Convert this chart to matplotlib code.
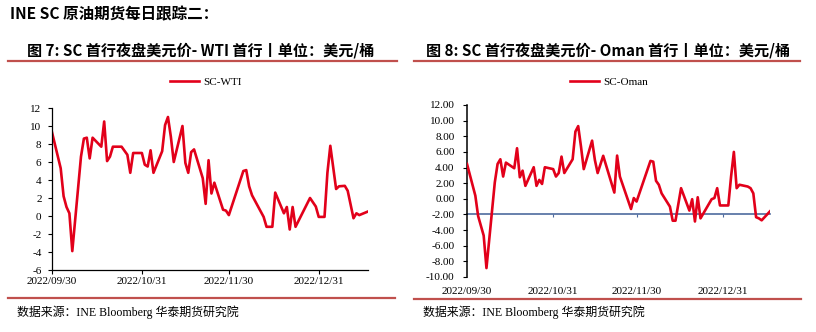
import pandas as pd
import numpy as np
import matplotlib.pyplot as plt
from matplotlib.lines import Line2D
from matplotlib.ticker import FormatStrFormatter

plt.rcParams['font.family'] = ['Liberation Serif', 'Noto Sans CJK SC']
plt.rcParams['axes.unicode_minus'] = False

# SC-WTI first-line spread (USD/bbl)
wti_dates = ['2022-09-30', '2022-10-03', '2022-10-04', '2022-10-05', '2022-10-06', '2022-10-07',
             '2022-10-10', '2022-10-11', '2022-10-12', '2022-10-13', '2022-10-14', '2022-10-17',
             '2022-10-18', '2022-10-19', '2022-10-20', '2022-10-21', '2022-10-24', '2022-10-26',
             '2022-10-27', '2022-10-28', '2022-10-31', '2022-11-01', '2022-11-02', '2022-11-03',
             '2022-11-04', '2022-11-07', '2022-11-08', '2022-11-09', '2022-11-10', '2022-11-11',
             '2022-11-14', '2022-11-15', '2022-11-16', '2022-11-17', '2022-11-18', '2022-11-21',
             '2022-11-22', '2022-11-23', '2022-11-24', '2022-11-25', '2022-11-28', '2022-11-29',
             '2022-11-30', '2022-12-05', '2022-12-06', '2022-12-07', '2022-12-08', '2022-12-12',
             '2022-12-13', '2022-12-15', '2022-12-16', '2022-12-19', '2022-12-20', '2022-12-21',
             '2022-12-22', '2022-12-23', '2022-12-28', '2022-12-30', '2022-12-31', '2023-01-02',
             '2023-01-03', '2023-01-04', '2023-01-06', '2023-01-07', '2023-01-09', '2023-01-10',
             '2023-01-12', '2023-01-13', '2023-01-14', '2023-01-17']
wti_vals = [9.3, 5.3, 2.2, 1.0, 0.3, -3.9,
            6.6, 8.6, 8.7, 6.4, 8.7, 7.7,
            10.5, 6.1, 6.6, 7.7, 7.7, 6.8,
            4.8, 7.0, 7.0, 5.7, 5.5, 7.3,
            4.8, 7.2, 10.1, 11.0, 8.8, 6.0,
            10.0, 5.9, 4.8, 7.1, 7.4, 4.2,
            1.35, 6.2, 2.5, 3.7, 0.7, 0.6,
            0.1, 5.0, 5.1, 3.3, 2.3, -0.1,
            -1.2, -1.2, 2.6, 0.3, 1.0, -1.5,
            1.0, -1.2, 2.0, 1.05, -0.1, -0.1,
            4.8, 7.8, 3.0, 3.3, 3.35, 2.8,
            -0.25, 0.3, 0.1, 0.5]

# SC-Oman first-line spread (USD/bbl)
oman_dates = ['2022-09-30', '2022-10-03', '2022-10-04', '2022-10-06', '2022-10-07', '2022-10-10',
              '2022-10-11', '2022-10-12', '2022-10-13', '2022-10-14', '2022-10-17', '2022-10-18',
              '2022-10-19', '2022-10-20', '2022-10-21', '2022-10-24', '2022-10-25', '2022-10-26',
              '2022-10-27', '2022-10-28', '2022-10-31', '2022-11-01', '2022-11-02', '2022-11-03',
              '2022-11-04', '2022-11-07', '2022-11-08', '2022-11-09', '2022-11-10', '2022-11-11',
              '2022-11-14', '2022-11-15', '2022-11-16', '2022-11-18', '2022-11-22', '2022-11-23',
              '2022-11-24', '2022-11-28', '2022-11-29', '2022-11-30', '2022-12-05', '2022-12-06',
              '2022-12-07', '2022-12-08', '2022-12-09', '2022-12-12', '2022-12-13', '2022-12-14',
              '2022-12-16', '2022-12-19', '2022-12-20', '2022-12-21', '2022-12-22', '2022-12-23',
              '2022-12-27', '2022-12-28', '2022-12-29', '2022-12-30', '2023-01-02', '2023-01-03',
              '2023-01-04', '2023-01-05', '2023-01-06', '2023-01-09', '2023-01-10', '2023-01-11',
              '2023-01-12', '2023-01-13', '2023-01-14', '2023-01-17']
oman_vals = [4.46, 0.4, -2.2, -4.7, -8.86, 2.1,
             4.46, 5.06, 2.85, 4.63, 3.91, 6.47,
             2.76, 3.6, 1.66, 4.04, 1.66, 2.42,
             1.9, 4.04, 3.8, 2.85, 3.3, 5.4,
             3.3, 5.06, 8.6, 9.3, 6.7, 3.8,
             7.44, 4.97, 3.3, 5.5, 0.8, 5.53,
             2.85, -1.3, 0.1, -0.35, 4.85, 4.75,
             2.3, 1.8, 0.7, -1.0, -2.8, -2.8,
             1.36, -1.5, -0.05, -2.9, 0.2, -2.5,
             -0.05, 0.1, 1.36, -0.85, -0.85, 2.85,
             6.0, 1.36, 1.8, 1.57, 1.36, 0.7,
             -2.35, -2.5, -2.75, -1.6]

tick_dates = ['2022-09-30', '2022-10-31', '2022-11-30', '2022-12-31']
tick_labels = ['2022/09/30', '2022/10/31', '2022/11/30', '2022/12/31']

RED = '#E2001A'
RULE = '#C0504D'
BLUE = '#4E6B9E'
CJK_BOLD = ['Noto Sans CJK SC', 'DejaVu Sans']
TICK_FS = 8

fig = plt.figure(figsize=(8.16, 3.32), dpi=100)

# header texts
fig.text(10 / 816, 1 - 14 / 332, 'INE SC 原油期货每日跟踪二：', family=CJK_BOLD,
         fontweight='bold', fontsize=11.2, va='center', ha='left')
fig.text(27 / 816, 1 - 50 / 332, '图 7: SC 首行夜盘美元价- WTI 首行丨单位：美元/桶', family=CJK_BOLD,
         fontweight='bold', fontsize=10.9, va='center', ha='left')
fig.text(426 / 816, 1 - 50 / 332, '图 8: SC 首行夜盘美元价- Oman 首行丨单位：美元/桶', family=CJK_BOLD,
         fontweight='bold', fontsize=10.9, va='center', ha='left')

# rules above and below each chart
for x0, x1, y in [(8, 397, 61), (414, 800, 61), (8, 395, 298), (414, 801, 299)]:
    fig.add_artist(Line2D([x0 / 816, x1 / 816], [1 - y / 332, 1 - y / 332],
                          color=RULE, lw=1.6, transform=fig.transFigure))

fig.text(17 / 816, 1 - 312 / 332, '数据来源：INE Bloomberg 华泰期货研究院', fontsize=8.6, va='center')
fig.text(423 / 816, 1 - 312 / 332, '数据来源：INE Bloomberg 华泰期货研究院', fontsize=8.6, va='center')

xt = pd.to_datetime(tick_dates)

# ---- left chart: SC-WTI
ax1 = fig.add_axes([52 / 816, 1 - 270 / 332, 316 / 816, 162 / 332])
d1 = pd.to_datetime(wti_dates)
ax1.plot(d1, wti_vals, color=RED, lw=1.9, label='SC-WTI')
ax1.set_xlim(d1[0], d1[-1])
ax1.set_ylim(-6, 12)
ax1.set_yticks(np.arange(-6, 13, 2))
ax1.set_xticks(xt)
ax1.set_xticklabels(tick_labels)
for s in ['top', 'right']:
    ax1.spines[s].set_visible(False)
for s in ['left', 'bottom']:
    ax1.spines[s].set_linewidth(0.9)
ax1.tick_params(axis='both', labelsize=TICK_FS, length=3, width=0.8, direction='out')
ax1.tick_params(axis='y', pad=4.5)
ax1.tick_params(axis='x', pad=2)
ax1.legend(loc='center', bbox_to_anchor=(206 / 816, 1 - 82 / 332), bbox_transform=fig.transFigure,
           frameon=False, fontsize=TICK_FS, handlelength=2.6, handletextpad=0.4)

# ---- right chart: SC-Oman
ax2 = fig.add_axes([467 / 816, 1 - 277 / 332, 303 / 816, 172 / 332])
d2 = pd.to_datetime(oman_dates)
ax2.plot(d2, oman_vals, color=RED, lw=1.9, label='SC-Oman', zorder=3)
ax2.set_xlim(d2[0], d2[-1])
ax2.set_ylim(-10, 12)
ax2.set_yticks(np.arange(-10, 13, 2))
ax2.yaxis.set_major_formatter(FormatStrFormatter('%.2f'))
ax2.set_xticks(xt)
ax2.set_xticklabels(tick_labels)
for s in ['top', 'right', 'bottom']:
    ax2.spines[s].set_visible(False)
ax2.spines['left'].set_linewidth(1.1)
ax2.tick_params(axis='y', labelsize=TICK_FS, length=3, width=0.8, pad=6)
ax2.tick_params(axis='x', labelsize=TICK_FS, length=0, pad=7)
# horizontal axis crossing at -2
sec = ax2.secondary_xaxis(8 / 22)
sec.set_xticks(xt[1:])
sec.tick_params(axis='x', labelbottom=False, length=2.5, width=0.8, color=BLUE)
sec.spines['bottom'].set_color(BLUE)
sec.spines['bottom'].set_linewidth(1.2)
ax2.legend(loc='center', bbox_to_anchor=(609 / 816, 1 - 82 / 332), bbox_transform=fig.transFigure,
           frameon=False, fontsize=TICK_FS, handlelength=2.6, handletextpad=0.4)

fig.savefig('out.png', dpi=100)
